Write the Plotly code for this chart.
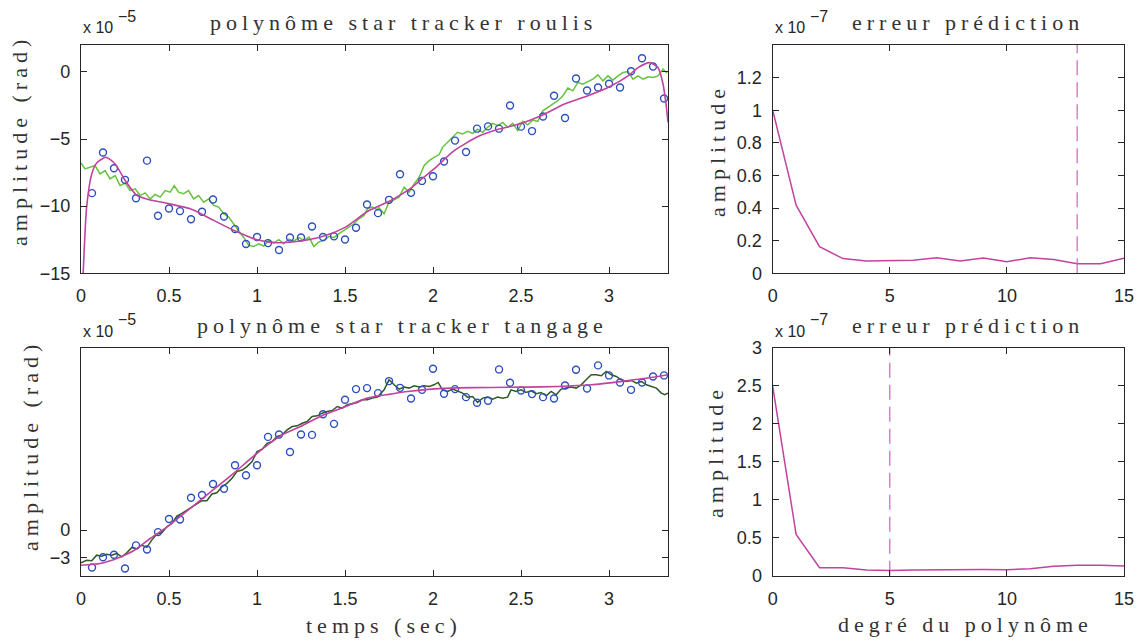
import plotly.graph_objects as go

# ---------------- data ----------------
# sample times of the star-tracker measurements (s)
t_samples = [0.0625, 0.125, 0.1875, 0.25, 0.3125, 0.375, 0.4375, 0.5, 0.5625, 0.625,
             0.6875, 0.75, 0.8125, 0.875, 0.9375, 1.0, 1.0625, 1.125, 1.1875, 1.25,
             1.3125, 1.375, 1.4375, 1.5, 1.5625, 1.625, 1.6875, 1.75, 1.8125, 1.875,
             1.9375, 2.0, 2.0625, 2.125, 2.1875, 2.25, 2.3125, 2.375, 2.4375, 2.5,
             2.5625, 2.625, 2.6875, 2.75, 2.8125, 2.875, 2.9375, 3.0, 3.0625, 3.125,
             3.1875, 3.25, 3.3125]

# roll (roulis) measurements, x1e-5 rad
roll_meas = [-9.03, -6.01, -7.18, -8.04, -9.41, -6.61, -10.72, -10.17, -10.37, -10.97,
             -10.42, -9.50, -10.77, -11.71, -12.82, -12.30, -12.75, -13.27, -12.33, -12.33,
             -11.51, -12.30, -12.25, -12.48, -11.61, -9.88, -10.52, -9.53, -7.62, -9.01,
             -8.12, -7.77, -6.68, -5.12, -5.97, -4.23, -4.06, -4.23, -2.50, -4.08,
             -4.41, -3.32, -1.78, -3.44, -0.50, -1.39, -1.16, -0.89, -1.16, 0.05,
             1.01, 0.40, -1.98]

# pitch (tangage) measurements, x1e-5 rad
pitch_meas = [-4.10, -2.97, -2.71, -4.21, -1.68, -2.12, -0.22, 1.21, 1.17, 3.55,
              3.85, 5.05, 4.54, 7.11, 6.01, 7.11, 10.22, 10.48, 8.57, 10.48,
              10.44, 12.71, 11.65, 14.29, 15.46, 15.57, 15.02, 16.34, 15.60, 14.43,
              15.38, 17.69, 14.95, 15.46, 14.58, 13.96, 14.18, 17.62, 16.15, 15.31,
              14.91, 14.58, 14.43, 15.86, 17.58, 15.53, 18.06, 16.96, 16.19, 15.38,
              16.19, 16.85, 16.96]

# roll reference signal (green)
roll_ref_t = [0.0, 0.023, 0.051, 0.080, 0.108, 0.137, 0.165, 0.194, 0.222, 0.251,
              0.279, 0.308, 0.336, 0.364, 0.393, 0.421, 0.450, 0.478, 0.507, 0.530,
              0.554, 0.583, 0.611, 0.640, 0.668, 0.697, 0.725, 0.754, 0.782, 0.811,
              0.839, 0.868, 0.896, 0.925, 0.953, 0.981, 1.010, 1.038, 1.067, 1.095,
              1.124, 1.152, 1.181, 1.209, 1.238, 1.266, 1.295, 1.323, 1.351, 1.380,
              1.409, 1.437, 1.466, 1.494, 1.522, 1.551, 1.579, 1.608, 1.627, 1.655,
              1.684, 1.693, 1.722, 1.750, 1.779, 1.807, 1.836, 1.864, 1.893, 1.921,
              1.949, 1.978, 2.006, 2.035, 2.054, 2.083, 2.111, 2.139, 2.168, 2.196,
              2.225, 2.253, 2.282, 2.310, 2.339, 2.367, 2.396, 2.424, 2.453, 2.481,
              2.510, 2.538, 2.567, 2.595, 2.624, 2.652, 2.681, 2.709, 2.738, 2.766,
              2.794, 2.823, 2.851, 2.880, 2.908, 2.937, 2.965, 2.994, 3.022, 3.051,
              3.079, 3.108, 3.136, 3.165, 3.193, 3.222, 3.250, 3.278, 3.307, 3.326,
              3.335]
roll_ref = [-6.78, -7.23, -7.10, -6.98, -7.60, -7.35, -7.97, -7.72, -8.47, -8.29,
            -8.84, -8.71, -9.21, -9.01, -9.46, -9.13, -9.33, -8.84, -8.96, -8.47,
            -8.96, -9.08, -8.84, -9.46, -9.21, -9.70, -9.46, -9.95, -10.07, -10.57,
            -10.82, -11.31, -11.81, -12.35, -12.92, -13.00, -12.80, -12.97, -12.55, -12.75,
            -12.50, -12.80, -12.45, -12.60, -12.35, -12.55, -12.30, -13.00, -12.67, -12.55,
            -12.25, -12.35, -12.05, -11.81, -11.56, -11.31, -10.94, -10.69, -10.20, -10.07,
            -10.27, -10.12, -10.57, -9.70, -9.53, -9.33, -8.59, -8.96, -8.34, -7.85,
            -6.98, -6.61, -6.36, -6.16, -5.62, -5.25, -4.88, -4.50, -4.63, -4.43,
            -4.58, -4.26, -4.50, -4.13, -3.84, -4.00, -3.76, -4.13, -3.84, -4.38,
            -3.69, -3.94, -3.59, -3.69, -2.90, -2.65, -2.40, -2.15, -1.78, -1.21,
            -1.41, -0.79, -0.92, -0.72, -0.54, -0.22, -0.67, -0.30, -0.62, -0.30,
            -0.05, 0.02, -0.54, -0.30, -0.54, -0.37, -0.42, -0.30, 0.20, -0.05,
            0.07]

# roll polynomial fit (magenta)
roll_fit_t = [0.0, 0.013, 0.032, 0.061, 0.089, 0.142, 0.194, 0.251, 0.317, 0.383,
              0.503, 0.621, 0.754, 0.867, 1.000, 1.114, 1.247, 1.380, 1.503, 1.627,
              1.760, 1.874, 1.940, 2.006, 2.120, 2.253, 2.376, 2.500, 2.614, 2.747,
              2.880, 3.003, 3.108, 3.165, 3.231, 3.278, 3.307, 3.326, 3.335]
roll_fit = [-19.0, -14.8, -10.07, -7.6, -6.78, -6.36, -6.86, -8.09, -9.2, -9.5,
            -9.83, -10.2, -11.06, -11.8, -12.5, -12.72, -12.6, -12.23, -11.56, -10.4,
            -9.58, -8.66, -7.92, -7.23, -5.87, -4.83, -4.26, -3.84, -3.27, -2.40,
            -1.78, -1.11, -0.30, 0.32, 0.69, 0.32, -0.92, -2.65, -3.76]

# pitch reference signal (dark green)
pitch_ref_t = [0.0, 0.032, 0.061, 0.089, 0.118, 0.146, 0.175, 0.203, 0.232, 0.260,
               0.289, 0.317, 0.345, 0.374, 0.402, 0.431, 0.459, 0.488, 0.516, 0.545,
               0.573, 0.602, 0.630, 0.659, 0.687, 0.715, 0.744, 0.772, 0.801, 0.829,
               0.858, 0.886, 0.915, 0.943, 0.972, 1.000, 1.029, 1.057, 1.086, 1.114,
               1.143, 1.171, 1.200, 1.228, 1.257, 1.285, 1.313, 1.342, 1.370, 1.399,
               1.427, 1.456, 1.484, 1.513, 1.541, 1.570, 1.598, 1.627, 1.655, 1.684,
               1.722, 1.750, 1.779, 1.807, 1.836, 1.864, 1.893, 1.921, 1.949, 1.978,
               2.006, 2.029, 2.054, 2.083, 2.111, 2.139, 2.168, 2.196, 2.225, 2.253,
               2.282, 2.310, 2.339, 2.367, 2.396, 2.424, 2.443, 2.472, 2.500, 2.529,
               2.557, 2.586, 2.614, 2.643, 2.671, 2.700, 2.728, 2.756, 2.785, 2.813,
               2.842, 2.870, 2.899, 2.927, 2.956, 2.984, 3.013, 3.041, 3.070, 3.098,
               3.127, 3.155, 3.184, 3.212, 3.241, 3.269, 3.297, 3.316, 3.335]
pitch_ref = [-3.59, -3.30, -3.37, -2.75, -2.86, -2.64, -2.75, -2.56, -2.93, -2.49,
             -1.90, -2.05, -1.65, -1.90, -1.10, -0.44, -0.29, 0.37, 0.73, 1.54,
             1.83, 2.20, 2.56, 2.86, 3.22, 3.22, 3.96, 4.10, 4.76, 5.13,
             5.68, 6.41, 6.59, 6.96, 7.51, 8.61, 8.86, 9.52, 9.71, 10.26,
             10.44, 10.99, 11.36, 11.43, 11.72, 11.90, 12.45, 12.53, 12.82, 13.00,
             13.11, 13.55, 13.37, 13.74, 13.85, 13.99, 14.29, 14.29, 14.47, 14.58,
             15.38, 16.48, 15.93, 15.46, 15.68, 15.57, 15.82, 15.68, 15.82, 15.75,
             15.93, 16.19, 15.38, 15.20, 15.46, 15.20, 15.02, 14.58, 14.65, 14.00,
             14.47, 14.58, 14.36, 14.58, 14.47, 14.58, 15.38, 15.20, 15.38, 15.09,
             15.27, 14.95, 15.09, 14.73, 15.20, 14.84, 15.46, 15.57, 15.68, 15.57,
             15.93, 16.48, 17.03, 17.03, 16.92, 17.40, 17.03, 16.85, 16.48, 16.30,
             16.41, 16.12, 16.30, 15.93, 15.75, 15.57, 15.02, 14.84, 15.02]

# pitch polynomial fit (magenta)
pitch_fit_t = [0.0, 0.108, 0.203, 0.298, 0.393, 0.503, 0.621, 0.754, 0.867, 1.000,
               1.133, 1.247, 1.380, 1.503, 1.627, 1.760, 1.855, 2.006, 2.139, 2.329,
               2.519, 2.709, 2.899, 3.088, 3.221, 3.335]
pitch_fit = [-3.85, -3.66, -3.11, -2.27, -0.92, 0.55, 2.38, 4.47, 6.23, 8.42,
             10.33, 11.36, 12.64, 13.55, 14.47, 14.91, 15.20, 15.49, 15.60, 15.64,
             15.68, 15.75, 15.93, 16.34, 16.67, 17.03]

# prediction error vs polynomial degree, x1e-7
degrees = [0, 1, 2, 3, 4, 5, 6, 7, 8, 9, 10, 11, 12, 13, 14, 15]
err_roll = [1.0, 0.418, 0.163, 0.090, 0.076, 0.076, 0.080, 0.096, 0.076, 0.094,
            0.071, 0.096, 0.084, 0.059, 0.059, 0.092]
err_pitch = [2.49, 0.544, 0.105, 0.105, 0.075, 0.070, 0.075, 0.079, 0.083, 0.083,
             0.079, 0.092, 0.123, 0.136, 0.136, 0.127]
best_deg_roll = 13
best_deg_pitch = 5

# tick labels / texts
title_roll = "polynôme star tracker roulis"
title_pitch = "polynôme star tracker tangage"
title_err = "erreur prédiction"
ylab_rad = "amplitude (rad)"
ylab_amp = "amplitude"
xlab_time = "temps (sec)"
xlab_deg = "degré du polynôme"

# ---------------- styles ----------------
MAG = "#c2429f"
GREEN = "#67c23d"
DGREEN = "#2f5a26"
BLUE = "#2b4fbf"
AX = "#262626"
W, H = 1138, 643
SERIF = "Liberation Serif, DejaVu Serif, serif"
SANS = "Liberation Sans, Arial, sans-serif"

fig = go.Figure()

circ = dict(symbol="circle-open", size=7, color=BLUE, line=dict(width=1.4, color=BLUE))

# top-left
fig.add_trace(go.Scatter(x=roll_ref_t, y=roll_ref, mode="lines",
                         line=dict(color=GREEN, width=1.5), xaxis="x", yaxis="y"))
fig.add_trace(go.Scatter(x=t_samples, y=roll_meas, mode="markers", marker=circ,
                         xaxis="x", yaxis="y"))
fig.add_trace(go.Scatter(x=roll_fit_t, y=roll_fit, mode="lines",
                         line=dict(color=MAG, width=1.6, shape="spline", smoothing=0.6),
                         xaxis="x", yaxis="y"))
# bottom-left
fig.add_trace(go.Scatter(x=pitch_ref_t, y=pitch_ref, mode="lines",
                         line=dict(color=DGREEN, width=1.5), xaxis="x3", yaxis="y3"))
fig.add_trace(go.Scatter(x=t_samples, y=pitch_meas, mode="markers", marker=circ,
                         xaxis="x3", yaxis="y3"))
fig.add_trace(go.Scatter(x=pitch_fit_t, y=pitch_fit, mode="lines",
                         line=dict(color=MAG, width=1.6, shape="spline", smoothing=0.6),
                         xaxis="x3", yaxis="y3"))
# top-right
fig.add_trace(go.Scatter(x=degrees, y=err_roll, mode="lines",
                         line=dict(color=MAG, width=1.5), xaxis="x2", yaxis="y2"))
fig.add_trace(go.Scatter(x=[best_deg_roll, best_deg_roll], y=[0, 1.4], mode="lines",
                         line=dict(color="#c865b4", width=1.2, dash="15px,7px"),
                         xaxis="x2", yaxis="y2"))
# bottom-right
fig.add_trace(go.Scatter(x=degrees, y=err_pitch, mode="lines",
                         line=dict(color=MAG, width=1.5), xaxis="x4", yaxis="y4"))
fig.add_trace(go.Scatter(x=[best_deg_pitch, best_deg_pitch], y=[0, 3], mode="lines",
                         line=dict(color="#c865b4", width=1.2, dash="15px,7px"),
                         xaxis="x4", yaxis="y4"))


def ax(**kw):
    d = dict(showline=True, linecolor=AX, linewidth=1.4, mirror="ticks",
             ticks="inside", ticklen=6, tickwidth=1, tickcolor=AX,
             showgrid=False, zeroline=False, ticklabelstandoff=6, automargin=False,
             tickfont=dict(family=SANS, size=18, color=AX))
    d.update(kw)
    return d


XL = [81 / W, 668 / W]
XR = [772.7 / W, 1124 / W]
YT = [1 - 273.3 / H, 1 - 45 / H]
YB = [1 - 575.7 / H, 1 - 347.7 / H]
tx_left = [0, 0.5, 1, 1.5, 2, 2.5, 3]
tx_left_lab = ["0", "0.5", "1", "1.5", "2", "2.5", "3"]

fig.update_layout(
    template="none",
    width=W, height=H, autosize=False,
    margin=dict(l=0, r=0, t=0, b=0, pad=0, autoexpand=False),
    paper_bgcolor="white", plot_bgcolor="white", showlegend=False,
    xaxis=ax(domain=XL, range=[0, 3.335], tickvals=tx_left, ticktext=tx_left_lab, anchor="y"),
    yaxis=ax(domain=YT, range=[-15, 2], tickvals=[-15, -10, -5, 0], anchor="x"),
    xaxis2=ax(domain=XR, range=[0, 15], tickvals=[0, 5, 10, 15], anchor="y2"),
    yaxis2=ax(domain=YT, range=[0, 1.4], tickvals=[0, 0.2, 0.4, 0.6, 0.8, 1, 1.2],
              ticktext=["0", "0.2", "0.4", "0.6", "0.8", "1", "1.2"], anchor="x2"),
    xaxis3=ax(domain=XL, range=[0, 3.335], tickvals=tx_left, ticktext=tx_left_lab, anchor="y3"),
    yaxis3=ax(domain=YB, range=[-5, 20], tickvals=[-3, 0], anchor="x3"),
    xaxis4=ax(domain=XR, range=[0, 15], tickvals=[0, 5, 10, 15], anchor="y4"),
    yaxis4=ax(domain=YB, range=[0, 3], tickvals=[0, 0.5, 1, 1.5, 2, 2.5, 3],
              ticktext=["0", "0.5", "1", "1.5", "2", "2.5", "3"], anchor="x4"),
)


def spaced(s, px=5):
    return "<span style='letter-spacing:%dpx'>%s</span>" % (px, s)


def ann(text, x, y, size=22, angle=0, family=SERIF, color="#333333", xanchor="center"):
    fig.add_annotation(text=text, x=x / W, y=1 - y / H, xref="paper", yref="paper",
                       showarrow=False, textangle=angle, xanchor=xanchor, yanchor="middle",
                       font=dict(family=family, size=size, color=color))


# titles
ann(spaced(title_roll), 403, 22)
ann(spaced(title_pitch), 402, 325)
ann(spaced(title_err), 968, 22)
ann(spaced(title_err), 968, 325)
# axis labels
ann(spaced(ylab_rad), 19, 141, angle=-90)
ann(spaced(ylab_rad), 31, 446, angle=-90)
ann(spaced(ylab_amp), 717, 150, angle=-90)
ann(spaced(ylab_amp), 716, 452, angle=-90)
ann(spaced(xlab_time), 384, 625)
ann(spaced(xlab_deg), 965, 624)

# exponent labels
for (xx, yy, e) in [(81, 28, "−5"), (81, 331, "−5"), (773, 28, "−7"), (773, 331, "−7")]:
    ann("x 10", xx, yy, size=16, family=SANS, color=AX, xanchor="left")
    ann(e, xx + 35, yy - 12, size=16, family=SANS, color=AX, xanchor="left")

fig.write_html(
    "out.html",
    config={"displayModeBar": False},
    post_script="document.body.style.margin='0px';",
)
